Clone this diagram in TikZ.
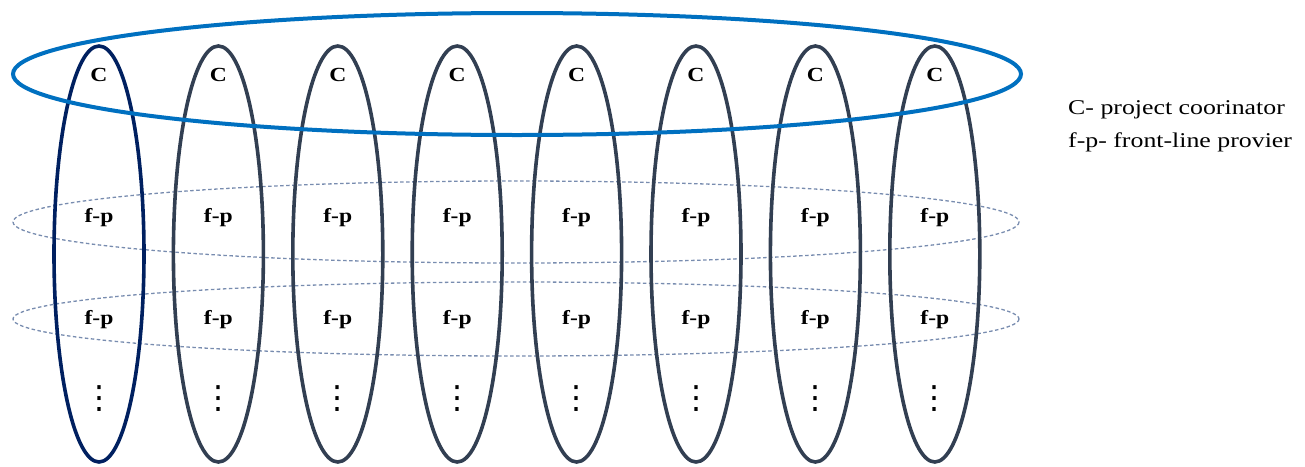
\documentclass[tikz,border=0pt]{standalone}
\usepackage{fontspec}
\setmainfont{Liberation Serif}
\newfontfamily\dvfont{DejaVu Sans}
\definecolor{bigblue}{RGB}{0,112,192}
\definecolor{navy}{RGB}{0,32,96}
\definecolor{slate}{RGB}{50,63,82}
\definecolor{dashc}{RGB}{120,140,175}
\begin{document}
\begin{tikzpicture}[x=1pt,y=-1pt,
  colring/.style={draw=slate,line width=3.6pt},
  firstring/.style={draw=navy,line width=3.6pt},
  rowring/.style={draw=dashc,line width=1.3pt,dash pattern=on 3.5pt off 2.5pt},
  topring/.style={draw=bigblue,line width=4pt},
  lbl/.style={inner sep=0pt,font=\fontsize{20}{22}\selectfont\bfseries},
  dotlbl/.style={inner sep=0pt,font=\dvfont\fontsize{32}{32}\selectfont},
  legend/.style={inner sep=0pt,anchor=west,align=left,font=\fontsize{21}{25}\selectfont}]
\useasboundingbox (0,0) rectangle (1305,466);
% dashed row rings
\draw[rowring] (516,222) ellipse [x radius=503, y radius=41];
\draw[rowring] (516,319) ellipse [x radius=503, y radius=37];
% column rings
\foreach \i in {0,...,7}{
  \pgfmathsetmacro{\cx}{99+119.4*\i}
  \ifnum\i=0
    \draw[firstring] (\cx,254) ellipse [x radius=45, y radius=208];
  \else
    \draw[colring] (\cx,254) ellipse [x radius=45, y radius=208];
  \fi
  \node[lbl] (c\i) at (\cx,75) {\scalebox{1.18}[1]{C}};
  \node[lbl] (fa\i) at (\cx,218) {\scalebox{1.18}[1]{f-p}};
  \node[lbl] (fb\i) at (\cx,320) {\scalebox{1.18}[1]{f-p}};
  \node[dotlbl] (d\i) at (\cx,398.5) {⋮};
}
% coordinator ring
\draw[topring] (517,74) ellipse [x radius=504, y radius=61];
% legend
\node[legend] (leg1) at (1068,110) {\scalebox{1.23}[1]{C- project coorinator}};
\node[legend] (leg2) at (1068,142) {\scalebox{1.23}[1]{f-p- front-line provier}};
\end{tikzpicture}
\end{document}
